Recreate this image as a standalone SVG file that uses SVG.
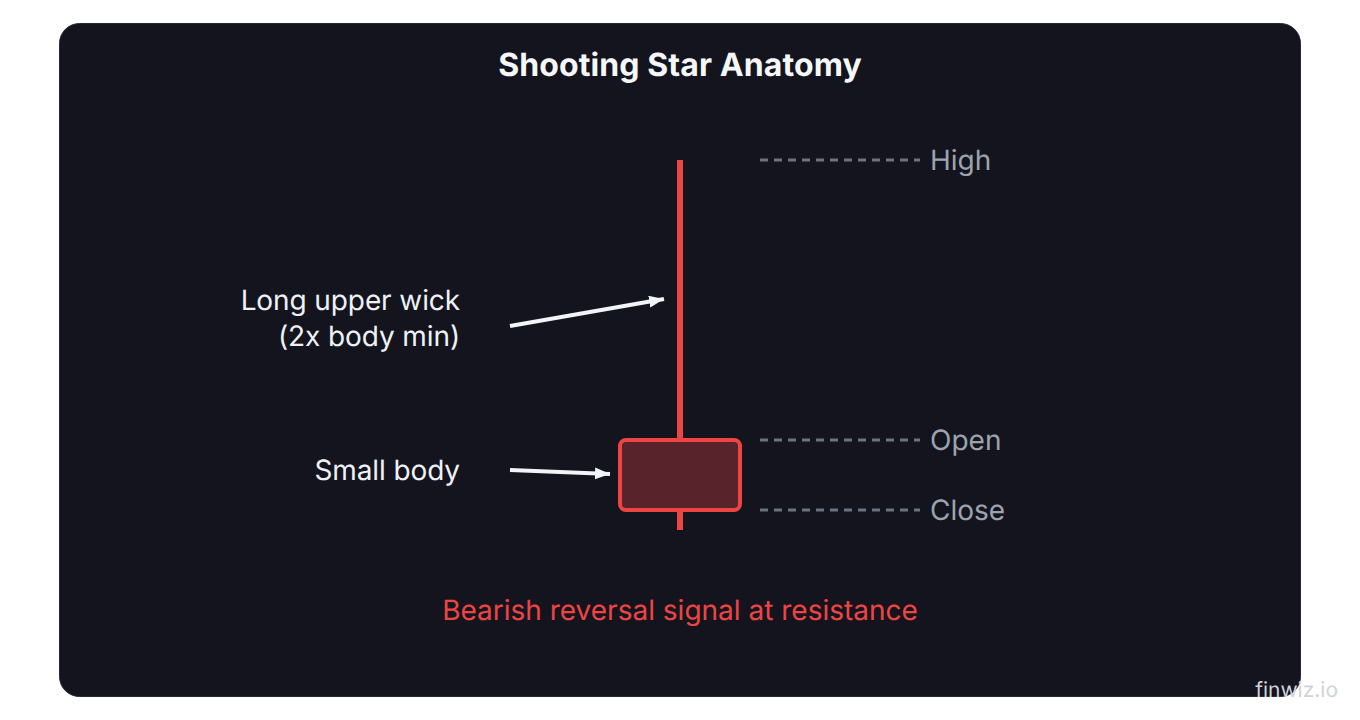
<svg xmlns="http://www.w3.org/2000/svg" width="1360" height="720" viewBox="0 0 1360 720">
<style>
text{font-family:Inter,"Liberation Sans",sans-serif;text-rendering:geometricPrecision}
.t{font-size:28px;fill:#eef1f6;text-anchor:end;letter-spacing:-.1px}
.l{font-size:28px;fill:#9ca3af}
.d{stroke:#6b7280;stroke-width:3;stroke-dasharray:8 6;fill:none}
.a{stroke:#f1f5f9;stroke-width:4;fill:none;marker-end:url(#ah)}
</style>
<defs><marker id="ah" markerUnits="userSpaceOnUse" markerWidth="16" markerHeight="14" refX="15" refY="6" orient="auto"><path d="M0 0L15 6L0 12Z" fill="#f1f5f9"/></marker></defs>
<rect width="1360" height="720" fill="#fff"/>
<rect id="panel" x="59.5" y="23.5" width="1241" height="673" rx="20" fill="#13141d" stroke="#272736"/>
<text x="680" y="76" text-anchor="middle" font-size="32" font-weight="700" letter-spacing=".1" fill="#f5f7fa">Shooting Star Anatomy</text>
<g id="candle">
<line x1="680" y1="160" x2="680" y2="530" stroke="#ef4444" stroke-width="6"/>
<rect x="620" y="440" width="120" height="70" rx="6" fill="#58232b" stroke="#ef4444" stroke-width="4"/>
</g>
<g id="connectors">
<line class="d" x1="760" y1="160" x2="920" y2="160"/>
<line class="d" x1="760" y1="440" x2="920" y2="440"/>
<line class="d" x1="760" y1="510" x2="920" y2="510"/>
<line class="a" x1="510" y1="326" x2="664" y2="299"/>
<line class="a" x1="510" y1="470" x2="610" y2="474"/>
</g>
<g id="high"><text class="l" x="930" y="170">High</text></g>
<g id="open"><text class="l" x="930" y="450">Open</text></g>
<g id="close"><text class="l" x="930" y="520">Close</text></g>
<g id="wick-label"><text class="t" x="460" y="310">Long upper wick</text><text class="t" x="460" y="346">(2x body min)</text></g>
<g id="body-label"><text class="t" x="460" y="480">Small body</text></g>
<text x="680" y="620" text-anchor="middle" font-size="28" fill="#ef4444">Bearish reversal signal at resistance</text>
<text x="1338" y="697" text-anchor="end" font-size="21" fill="#d0d2da">finwiz.io</text>
</svg>
